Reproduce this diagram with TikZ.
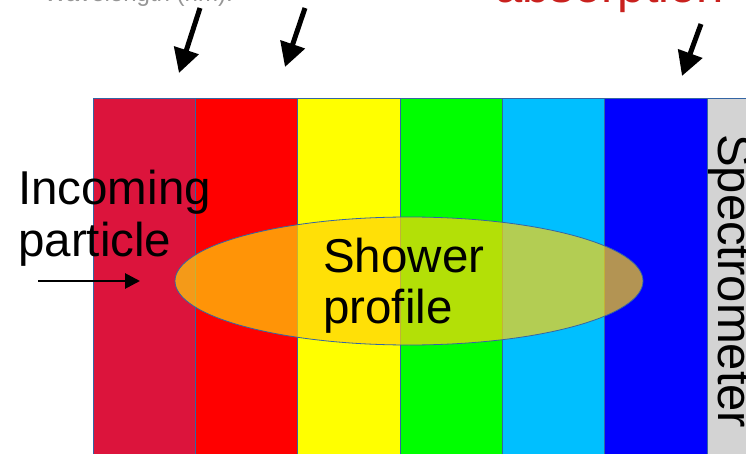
\documentclass[tikz,border=0pt]{standalone}
\usepackage{fontspec}
\setmainfont{Liberation Sans}
\usetikzlibrary{arrows.meta,shapes.geometric}
\definecolor{crimsonS}{RGB}{220,20,60}
\definecolor{redS}{RGB}{255,0,0}
\definecolor{yellowS}{RGB}{255,255,0}
\definecolor{greenS}{RGB}{0,255,0}
\definecolor{skyS}{RGB}{0,191,255}
\definecolor{blueS}{RGB}{0,0,255}
\definecolor{grayS}{RGB}{211,211,211}
\definecolor{edgeS}{RGB}{52,101,164}
\definecolor{showerS}{RGB}{255,212,10}
\definecolor{absred}{RGB}{201,33,30}
\definecolor{wavegray}{RGB}{150,150,150}
\tikzset{
  stripe/.style={draw=edgeS, line width=0.8pt},
  bigtext/.style={inner sep=0pt, anchor=base west, font=\fontsize{47.5}{51}\selectfont},
  downarrow/.style={line width=5pt, -{Triangle[length=24pt,width=25pt]}},
  inarrow/.style={line width=2.8pt, -{Triangle[length=15pt,width=15pt]}}
}
\begin{document}
\begin{tikzpicture}[x=1pt,y=-1pt]
\useasboundingbox (0,0) rectangle (746,454);
\clip (0,0) rectangle (746,454);
% stripes
\path[stripe, fill=crimsonS] (93,98) rectangle (195.3,470);
\path[stripe, fill=redS] (195.3,98) rectangle (297.7,470);
\path[stripe, fill=yellowS] (297.7,98) rectangle (400,470);
\path[stripe, fill=greenS] (400,98) rectangle (502.3,470);
\path[stripe, fill=skyS] (502.3,98) rectangle (604.7,470);
\path[stripe, fill=blueS] (604.7,98) rectangle (707,470);
\path[stripe, fill=grayS] (707,98) rectangle (760,470);
% shower ellipse
\node[ellipse, minimum width=468pt, minimum height=128pt, inner sep=0pt,
      fill=showerS, fill opacity=0.7, draw=edgeS, line width=0.8pt] (shower) at (409,281) {};
\node[bigtext] (sh1) at (323,272) {Shower};
\node[bigtext] (sh2) at (323,323) {profile};
% incoming particle
\node[bigtext] (in1) at (18,205) {Incoming};
\node[bigtext] (in2) at (18,256) {particle};
\coordinate (inS) at (38,281);
\coordinate (inE) at (140,281);
\draw[inarrow] (inS) -- (inE);
% spectrometer label
\node[inner sep=0pt, anchor=base west, rotate=-90, font=\fontsize{49}{51}\selectfont] (spec) at (718,134) {Spectrometer};
% top texts (cut off)
\node[inner sep=0pt, anchor=base west, text=wavegray, font=\fontsize{24}{28}\selectfont] (wave) at (44,2) {Wavelength (nm):};
\node[inner sep=0pt, anchor=base west, text=absred, font=\fontsize{49}{56}\selectfont] (abs) at (495,2.5) {absorption};
% down arrows
\coordinate (a1s) at (200,8);
\coordinate (a1e) at (179,73);
\coordinate (a2s) at (305,8);
\coordinate (a2e) at (285,67);
\coordinate (a3s) at (701,24);
\coordinate (a3e) at (682,76);
\draw[downarrow] (a1s) -- (a1e);
\draw[downarrow] (a2s) -- (a2e);
\draw[downarrow] (a3s) -- (a3e);
\end{tikzpicture}
\end{document}
